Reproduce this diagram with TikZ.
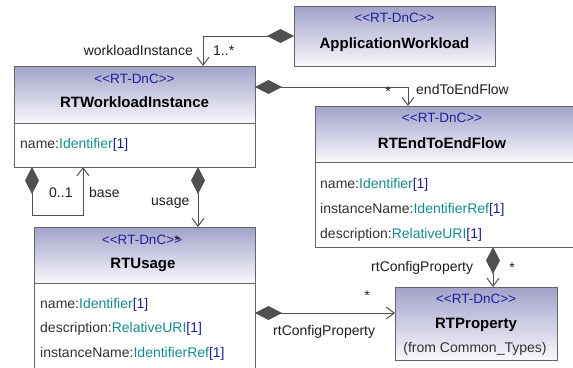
\documentclass[tikz,border=0pt]{standalone}
\usepackage{fontspec}
\setmainfont{Liberation Sans}[Ligatures=TeXOff]
\usetikzlibrary{arrows.meta}
\definecolor{hdrtop}{RGB}{162,162,202}
\definecolor{hdrbot}{RGB}{248,248,252}
\definecolor{boxline}{RGB}{100,100,100}
\definecolor{linecol}{RGB}{80,80,80}
\definecolor{stereo}{RGB}{30,30,160}
\definecolor{typecol}{RGB}{20,140,140}
\definecolor{multcol}{RGB}{30,30,150}
\definecolor{txt}{RGB}{50,50,50}
\definecolor{lbltxt}{RGB}{30,30,30}
\newcommand{\umlattr}[2]{#1:\textcolor{typecol}{#2}\textcolor{multcol}{[1]}}
\begin{document}
\begin{tikzpicture}[x=1pt,y=-1pt,
  hdr/.style={draw=boxline, line width=1pt, top color=hdrtop, bottom color=hdrbot, anchor=north west, inner sep=0pt, outer sep=0pt},
  body/.style={draw=boxline, line width=1pt, fill=white, anchor=north west, inner sep=0pt, outer sep=0pt},
  stereotxt/.style={text=stereo, font=\fontsize{13.5}{15}\selectfont, anchor=base, inner sep=0pt},
  nametxt/.style={text=black, font=\fontsize{15}{17}\selectfont\bfseries, anchor=base, inner sep=0pt},
  fromtxt/.style={text=txt, font=\fontsize{14}{16}\selectfont, anchor=base, inner sep=0pt},
  attrtxt/.style={text=txt, font=\fontsize{14}{16}\selectfont, anchor=base west, inner sep=0pt},
  lbl/.style={text=lbltxt, font=\fontsize{14}{16}\selectfont, inner sep=0pt},
  comp/.style={draw=linecol, line width=1pt, {Diamond[length=27pt,width=14pt,fill=linecol]}-{Straight Barb[length=8pt,width=12pt]}},
]
\useasboundingbox (0,0) rectangle (573,367);
\clip (0,0) rectangle (573,367);
\fill[white] (0,0) rectangle (573,367);

% ApplicationWorkload
\node[hdr, minimum width=201pt, minimum height=60pt] (aw) at (294,6) {};
\node[stereotxt] (aws) at (394.5,22) {<<RT-DnC>>};
\node[nametxt] (awn) at (394.5,48) {ApplicationWorkload};

% RTWorkloadInstance
\node[hdr, minimum width=241pt, minimum height=57pt] (wih) at (14,66) {};
\node[body, minimum width=241pt, minimum height=44pt] (wib) at (14,123) {};
\node[stereotxt] (wis) at (134.5,83) {<<RT-DnC>>};
\node[nametxt] (win) at (134.5,107) {RTWorkloadInstance};
\node[attrtxt] (wia) at (20,148) {\umlattr{name}{Identifier}};

% RTEndToEndFlow
\node[hdr, minimum width=260pt, minimum height=56pt] (e2eh) at (315,106) {};
\node[body, minimum width=260pt, minimum height=85pt] (e2eb) at (315,162) {};
\node[stereotxt] (e2es) at (442,122) {<<RT-DnC>>};
\node[nametxt] (e2en) at (442,148) {RTEndToEndFlow};
\node[attrtxt] (e2ea) at (320,188) {\umlattr{name}{Identifier}};
\node[attrtxt] (e2eb2) at (320,213) {\umlattr{instanceName}{IdentifierRef}};
\node[attrtxt] (e2ec) at (320,238) {\umlattr{description}{RelativeURI}};

% RTUsage
\node[hdr, minimum width=221pt, minimum height=56pt] (ush) at (34,227) {};
\node[body, minimum width=221pt, minimum height=100pt] (usb) at (34,283) {};
\node[stereotxt] (uss) at (142,244) {<<RT-DnC>>};
\node[nametxt] (usn) at (143,268) {RTUsage};
\node[attrtxt] (usa) at (40,308) {\umlattr{name}{Identifier}};
\node[attrtxt] (usd) at (40,332) {\umlattr{description}{RelativeURI}};
\node[attrtxt] (usi) at (40,357) {\umlattr{instanceName}{IdentifierRef}};

% RTProperty
\node[hdr, minimum width=162pt, minimum height=73pt] (rp) at (395,287) {};
\node[stereotxt] (rps) at (476,303) {<<RT-DnC>>};
\node[nametxt] (rpn) at (476,328) {RTProperty};
\node[fromtxt] (rpf) at (475,352) {(from Common\_Types)};

% connectors
\draw[comp] (aw.west) -| ([xshift=68.5pt]wih.north);
\draw[comp] ([yshift=7.5pt]wih.east) -| ([xshift=-37pt]e2eh.north);
\draw[comp] ([xshift=-102.5pt]wib.south) -- ++(0,48) -| ([xshift=-51.5pt]wib.south);
\draw[comp] ([xshift=63.5pt]wib.south) -- ([xshift=53.5pt]ush.north);
\draw[comp] ([xshift=48pt]e2eb.south) -- ([xshift=17pt]rp.north);
\coordinate (c6) at ([yshift=10.5pt]rp.west);
\draw[comp] (usb.east |- c6) -- (c6);

% labels
\node[lbl, anchor=base east] (l1) at (193,55) {workloadInstance};
\node[lbl, anchor=base west] (l2) at (213,55) {1..*};
\node[lbl, anchor=center] (l3) at (388,92) {*};
\node[lbl, anchor=base west] (l4) at (416,94) {endToEndFlow};
\node[lbl, anchor=base west] (l5) at (49,197) {0..1};
\node[lbl, anchor=base west] (l6) at (89,197) {base};
\node[lbl, anchor=base west] (l7) at (151,205) {usage};
\node[lbl, anchor=center] (l8) at (177,241) {*};
\node[lbl, anchor=base west] (l9) at (371,271) {rtConfigProperty};
\node[lbl, anchor=center] (l10) at (512,268) {*};
\node[lbl, anchor=center] (l11) at (367,296) {*};
\node[lbl, anchor=base west] (l12) at (273,335) {rtConfigProperty};
\end{tikzpicture}
\end{document}
